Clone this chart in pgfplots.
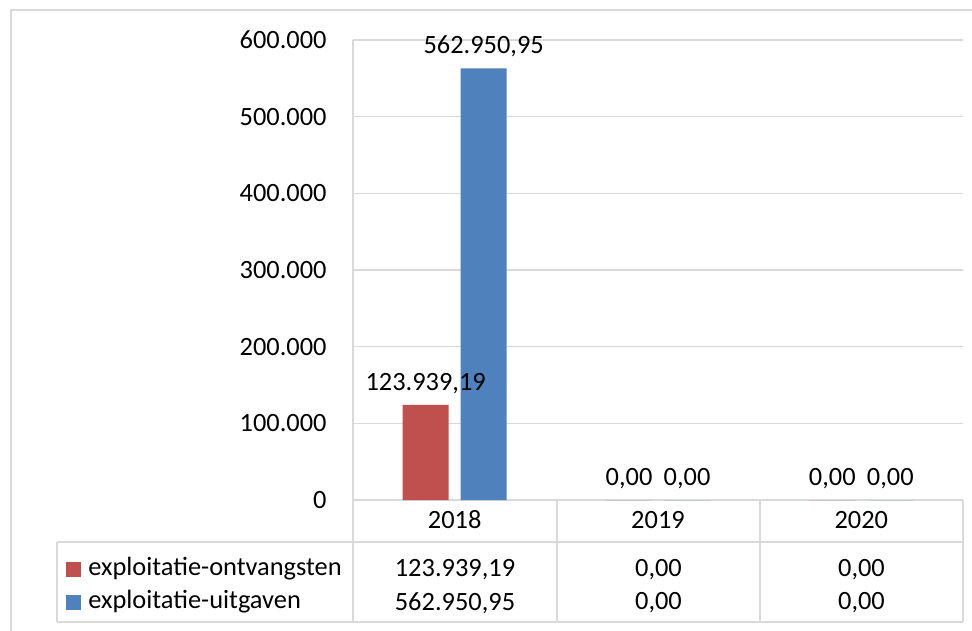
\documentclass[border=0pt]{standalone}
\usepackage{fontspec}
\setmainfont{Carlito}
\usepackage{pgfplots}
\pgfplotsset{compat=1.18}
\usepackage{pgfplotstable}
\definecolor{exred}{HTML}{C0504D}
\definecolor{exblue}{HTML}{4F81BD}
\definecolor{gridc}{HTML}{D9D9D9}

\pgfplotstableread{
x y label
0 123939.19 123.939,19
1 0 0,00
2 0 0,00
}\ontv
\pgfplotstableread{
x y label
0 562950.95 562.950,95
1 0 0,00
2 0 0,00
}\uitg

\begin{document}
\fontsize{13.2bp}{15.8bp}\selectfont
\begin{tikzpicture}
\path[use as bounding box] (0,0) rectangle (486bp,315.5bp);
\begin{scope}[x=0.5bp,y=-0.5bp,shift={(0,315.5bp)}]
  % outer chart frame
  \draw[gridc, line width=1bp] (11,640) -- (11,10) -- (990,10);
  % table lines
  \draw[gridc, line width=0.75bp] (353,40) -- (353,622);
  \draw[gridc, line width=0.75bp] (353,500) -- (963,500);
  \draw[gridc, line width=0.75bp] (57,542) -- (963,542);
  \draw[gridc, line width=0.75bp] (57,622) -- (963,622);
  \draw[gridc, line width=0.75bp] (57,542) -- (57,622);
  \draw[gridc, line width=0.75bp] (557,500) -- (557,622);
  \draw[gridc, line width=0.75bp] (760,500) -- (760,622);
  \draw[gridc, line width=0.75bp] (963,500) -- (963,622);
  % table values
  \node at (455,570) {123.939,19};
  \node at (658.5,570) {0,00};
  \node at (861.5,570) {0,00};
  \node at (455,603) {562.950,95};
  \node at (658.5,603) {0,00};
  \node at (861.5,603) {0,00};
\end{scope}
\begin{axis}[
  at={(176.5bp,65.5bp)}, anchor=south west,
  scale only axis, width=305bp, height=230bp,
  xmin=-0.5, xmax=2.5, ymin=0, ymax=600000,
  ybar=6bp, bar width=23bp,
  xtick=data, xticklabels={2018,2019,2020},
  ytick={0,100000,200000,300000,400000,500000,600000},
  scaled y ticks=false,
  major tick length=0pt,
  axis line style={draw=none},
  ymajorgrids, grid style={gridc, line width=0.75bp},
  yticklabel style={anchor=east, inner sep=0pt, xshift=-13bp,
    /pgf/number format/.cd, fixed, 1000 sep={.}, assume math mode=true},
  xticklabel style={anchor=center, yshift=-10bp},
  tick label style={font=\fontsize{13.2bp}{15.8bp}\selectfont},
  nodes near coords={\pgfplotspointmeta},
  nodes near coords style={anchor=south, inner sep=0pt, yshift=5.5bp,
    font=\fontsize{13.2bp}{15.8bp}\selectfont, text=black},
  legend style={at={(axis description cs:-0.4705,-0.188)}, anchor=west,
    draw=none, fill=none, inner sep=0pt, row sep=0pt, column sep=3.5bp,
    font=\fontsize{13.2bp}{15.8bp}\selectfont,
    nodes={inner sep=0pt, text height=11bp, text depth=5.5bp}},
  legend cell align=left,
  legend image code/.code={\fill[#1] (0bp,-3.75bp) rectangle (7.5bp,3.75bp);},
  clip=false,
]
\addplot[fill=exred, draw=none, point meta=explicit symbolic] table[x=x,y=y,meta=label]{\ontv};
\addplot[fill=exblue, draw=none, point meta=explicit symbolic] table[x=x,y=y,meta=label]{\uitg};
\legend{exploitatie-ontvangsten, exploitatie-uitgaven}
\end{axis}
\end{tikzpicture}
\end{document}
